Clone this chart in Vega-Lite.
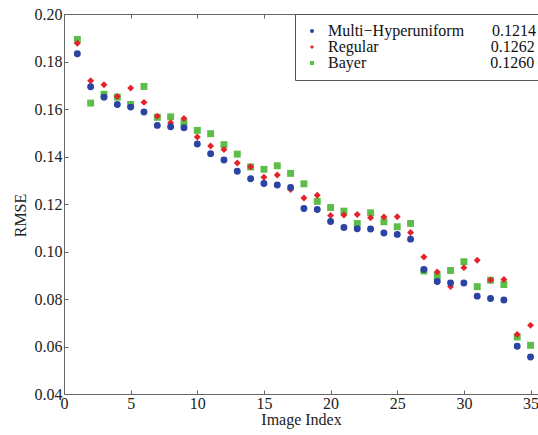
{
  "$schema": "https://vega.github.io/schema/vega-lite/v6.json",
  "width": 474,
  "height": 380,
  "autosize": {"type": "none"},
  "padding": {"left": 64, "top": 14, "right": 0, "bottom": 41},
  "background": "white",
  "config": {
    "view": {"stroke": null},
    "font": "Liberation Serif",
    "axis": {
      "labelFont": "Liberation Serif",
      "titleFont": "Liberation Serif",
      "labelFontSize": 16,
      "titleFontSize": 16,
      "titleFontWeight": "normal",
      "labelColor": "#222",
      "titleColor": "#222",
      "domainColor": "#666",
      "tickColor": "#666",
      "grid": false,
      "tickSize": -4
    }
  },
  "data": {
    "values": [
      {"idx": 1, "method": "Bayer", "rmse": 0.1893},
      {"idx": 2, "method": "Bayer", "rmse": 0.1625},
      {"idx": 3, "method": "Bayer", "rmse": 0.1662},
      {"idx": 4, "method": "Bayer", "rmse": 0.1650},
      {"idx": 5, "method": "Bayer", "rmse": 0.1619},
      {"idx": 6, "method": "Bayer", "rmse": 0.1695},
      {"idx": 7, "method": "Bayer", "rmse": 0.1565},
      {"idx": 8, "method": "Bayer", "rmse": 0.1567},
      {"idx": 9, "method": "Bayer", "rmse": 0.1542},
      {"idx": 10, "method": "Bayer", "rmse": 0.1510},
      {"idx": 11, "method": "Bayer", "rmse": 0.1496},
      {"idx": 12, "method": "Bayer", "rmse": 0.1450},
      {"idx": 13, "method": "Bayer", "rmse": 0.1410},
      {"idx": 14, "method": "Bayer", "rmse": 0.1356},
      {"idx": 15, "method": "Bayer", "rmse": 0.1346},
      {"idx": 16, "method": "Bayer", "rmse": 0.1361},
      {"idx": 17, "method": "Bayer", "rmse": 0.1329},
      {"idx": 18, "method": "Bayer", "rmse": 0.1285},
      {"idx": 19, "method": "Bayer", "rmse": 0.1211},
      {"idx": 20, "method": "Bayer", "rmse": 0.1185},
      {"idx": 21, "method": "Bayer", "rmse": 0.1170},
      {"idx": 22, "method": "Bayer", "rmse": 0.1118},
      {"idx": 23, "method": "Bayer", "rmse": 0.1163},
      {"idx": 24, "method": "Bayer", "rmse": 0.1125},
      {"idx": 25, "method": "Bayer", "rmse": 0.1104},
      {"idx": 26, "method": "Bayer", "rmse": 0.1118},
      {"idx": 27, "method": "Bayer", "rmse": 0.0918},
      {"idx": 28, "method": "Bayer", "rmse": 0.0896},
      {"idx": 29, "method": "Bayer", "rmse": 0.0920},
      {"idx": 30, "method": "Bayer", "rmse": 0.0957},
      {"idx": 31, "method": "Bayer", "rmse": 0.0852},
      {"idx": 32, "method": "Bayer", "rmse": 0.0879},
      {"idx": 33, "method": "Bayer", "rmse": 0.0861},
      {"idx": 34, "method": "Bayer", "rmse": 0.0640},
      {"idx": 35, "method": "Bayer", "rmse": 0.0605},
      {"idx": 1, "method": "Regular", "rmse": 0.1877},
      {"idx": 2, "method": "Regular", "rmse": 0.1719},
      {"idx": 3, "method": "Regular", "rmse": 0.1702},
      {"idx": 4, "method": "Regular", "rmse": 0.1653},
      {"idx": 5, "method": "Regular", "rmse": 0.1688},
      {"idx": 6, "method": "Regular", "rmse": 0.1628},
      {"idx": 7, "method": "Regular", "rmse": 0.1570},
      {"idx": 8, "method": "Regular", "rmse": 0.1542},
      {"idx": 9, "method": "Regular", "rmse": 0.1560},
      {"idx": 10, "method": "Regular", "rmse": 0.1482},
      {"idx": 11, "method": "Regular", "rmse": 0.1444},
      {"idx": 12, "method": "Regular", "rmse": 0.1429},
      {"idx": 13, "method": "Regular", "rmse": 0.1373},
      {"idx": 14, "method": "Regular", "rmse": 0.1357},
      {"idx": 15, "method": "Regular", "rmse": 0.1313},
      {"idx": 16, "method": "Regular", "rmse": 0.1322},
      {"idx": 17, "method": "Regular", "rmse": 0.1261},
      {"idx": 18, "method": "Regular", "rmse": 0.1225},
      {"idx": 19, "method": "Regular", "rmse": 0.1237},
      {"idx": 20, "method": "Regular", "rmse": 0.1152},
      {"idx": 21, "method": "Regular", "rmse": 0.1154},
      {"idx": 22, "method": "Regular", "rmse": 0.1156},
      {"idx": 23, "method": "Regular", "rmse": 0.1142},
      {"idx": 24, "method": "Regular", "rmse": 0.1145},
      {"idx": 25, "method": "Regular", "rmse": 0.1146},
      {"idx": 26, "method": "Regular", "rmse": 0.1080},
      {"idx": 27, "method": "Regular", "rmse": 0.0977},
      {"idx": 28, "method": "Regular", "rmse": 0.0914},
      {"idx": 29, "method": "Regular", "rmse": 0.0853},
      {"idx": 30, "method": "Regular", "rmse": 0.0932},
      {"idx": 31, "method": "Regular", "rmse": 0.0963},
      {"idx": 32, "method": "Regular", "rmse": 0.0880},
      {"idx": 33, "method": "Regular", "rmse": 0.0882},
      {"idx": 34, "method": "Regular", "rmse": 0.0651},
      {"idx": 35, "method": "Regular", "rmse": 0.0689},
      {"idx": 1, "method": "Multi\u2212Hyperuniform", "rmse": 0.1833},
      {"idx": 2, "method": "Multi\u2212Hyperuniform", "rmse": 0.1694},
      {"idx": 3, "method": "Multi\u2212Hyperuniform", "rmse": 0.1650},
      {"idx": 4, "method": "Multi\u2212Hyperuniform", "rmse": 0.1619},
      {"idx": 5, "method": "Multi\u2212Hyperuniform", "rmse": 0.1608},
      {"idx": 6, "method": "Multi\u2212Hyperuniform", "rmse": 0.1587},
      {"idx": 7, "method": "Multi\u2212Hyperuniform", "rmse": 0.1531},
      {"idx": 8, "method": "Multi\u2212Hyperuniform", "rmse": 0.1525},
      {"idx": 9, "method": "Multi\u2212Hyperuniform", "rmse": 0.1521},
      {"idx": 10, "method": "Multi\u2212Hyperuniform", "rmse": 0.1453},
      {"idx": 11, "method": "Multi\u2212Hyperuniform", "rmse": 0.1412},
      {"idx": 12, "method": "Multi\u2212Hyperuniform", "rmse": 0.1385},
      {"idx": 13, "method": "Multi\u2212Hyperuniform", "rmse": 0.1338},
      {"idx": 14, "method": "Multi\u2212Hyperuniform", "rmse": 0.1306},
      {"idx": 15, "method": "Multi\u2212Hyperuniform", "rmse": 0.1286},
      {"idx": 16, "method": "Multi\u2212Hyperuniform", "rmse": 0.1280},
      {"idx": 17, "method": "Multi\u2212Hyperuniform", "rmse": 0.1270},
      {"idx": 18, "method": "Multi\u2212Hyperuniform", "rmse": 0.1181},
      {"idx": 19, "method": "Multi\u2212Hyperuniform", "rmse": 0.1177},
      {"idx": 20, "method": "Multi\u2212Hyperuniform", "rmse": 0.1126},
      {"idx": 21, "method": "Multi\u2212Hyperuniform", "rmse": 0.1101},
      {"idx": 22, "method": "Multi\u2212Hyperuniform", "rmse": 0.1096},
      {"idx": 23, "method": "Multi\u2212Hyperuniform", "rmse": 0.1095},
      {"idx": 24, "method": "Multi\u2212Hyperuniform", "rmse": 0.1078},
      {"idx": 25, "method": "Multi\u2212Hyperuniform", "rmse": 0.1072},
      {"idx": 26, "method": "Multi\u2212Hyperuniform", "rmse": 0.1052},
      {"idx": 27, "method": "Multi\u2212Hyperuniform", "rmse": 0.0924},
      {"idx": 28, "method": "Multi\u2212Hyperuniform", "rmse": 0.0874},
      {"idx": 29, "method": "Multi\u2212Hyperuniform", "rmse": 0.0868},
      {"idx": 30, "method": "Multi\u2212Hyperuniform", "rmse": 0.0867},
      {"idx": 31, "method": "Multi\u2212Hyperuniform", "rmse": 0.0812},
      {"idx": 32, "method": "Multi\u2212Hyperuniform", "rmse": 0.0802},
      {"idx": 33, "method": "Multi\u2212Hyperuniform", "rmse": 0.0796},
      {"idx": 34, "method": "Multi\u2212Hyperuniform", "rmse": 0.0601},
      {"idx": 35, "method": "Multi\u2212Hyperuniform", "rmse": 0.0556}
    ]
  },
  "layer": [
    {
      "mark": {"type": "point", "filled": true, "opacity": 1, "size": 48},
      "encoding": {
        "x": {
          "field": "idx", "type": "quantitative",
          "scale": {"domain": [0, 35.56], "nice": false, "zero": false},
          "axis": {"orient": "bottom", "values": [0, 5, 10, 15, 20, 25, 30, 35], "format": "d", "title": "Image Index", "labelPadding": 5, "titlePadding": 0, "labelFlush": false}
        },
        "y": {
          "field": "rmse", "type": "quantitative",
          "scale": {"domain": [0.04, 0.20], "nice": false, "zero": false},
          "axis": {"values": [0.04, 0.06, 0.08, 0.10, 0.12, 0.14, 0.16, 0.18, 0.20], "format": ".2f", "title": "RMSE", "labelPadding": 6, "titlePadding": 6, "titleY": 201}
        },
        "color": {
          "field": "method", "type": "nominal",
          "scale": {"domain": ["Multi\u2212Hyperuniform", "Regular", "Bayer"], "range": ["#2b43a3", "#e3222a", "#5dbd49"]},
          "legend": {
            "orient": "none", "legendX": 231, "legendY": 0, "title": null,
            "strokeColor": "#555", "fillColor": "white", "padding": 9,
            "labelFont": "Liberation Serif", "labelFontSize": 16, "labelColor": "#111",
            "labelLimit": 400, "symbolSize": 16, "rowPadding": -3, "labelOffset": 8,
            "labelExpr": "datum.value == 'Regular' ? 'Regular' + pad('', 28, '\u00a0') + '0.1262' : datum.value == 'Bayer' ? 'Bayer' + pad('', 31, '\u00a0') + '0.1260' : datum.value + pad('', 7, '\u00a0') + '0.1214'"
          }
        },
        "shape": {
          "field": "method", "type": "nominal",
          "scale": {"domain": ["Multi\u2212Hyperuniform", "Regular", "Bayer"], "range": ["circle", "diamond", "square"]}
        }
      }
    },
    {
      "mark": {"type": "point", "opacity": 0},
      "encoding": {
        "x": {
          "field": "idx", "type": "quantitative",
          "axis": {"orient": "top", "values": [0, 5, 10, 15, 20, 25, 30, 35], "labels": false, "title": null}
        },
        "y": {"field": "rmse", "type": "quantitative"}
      }
    }
  ],
  "resolve": {"axis": {"x": "independent"}}
}
